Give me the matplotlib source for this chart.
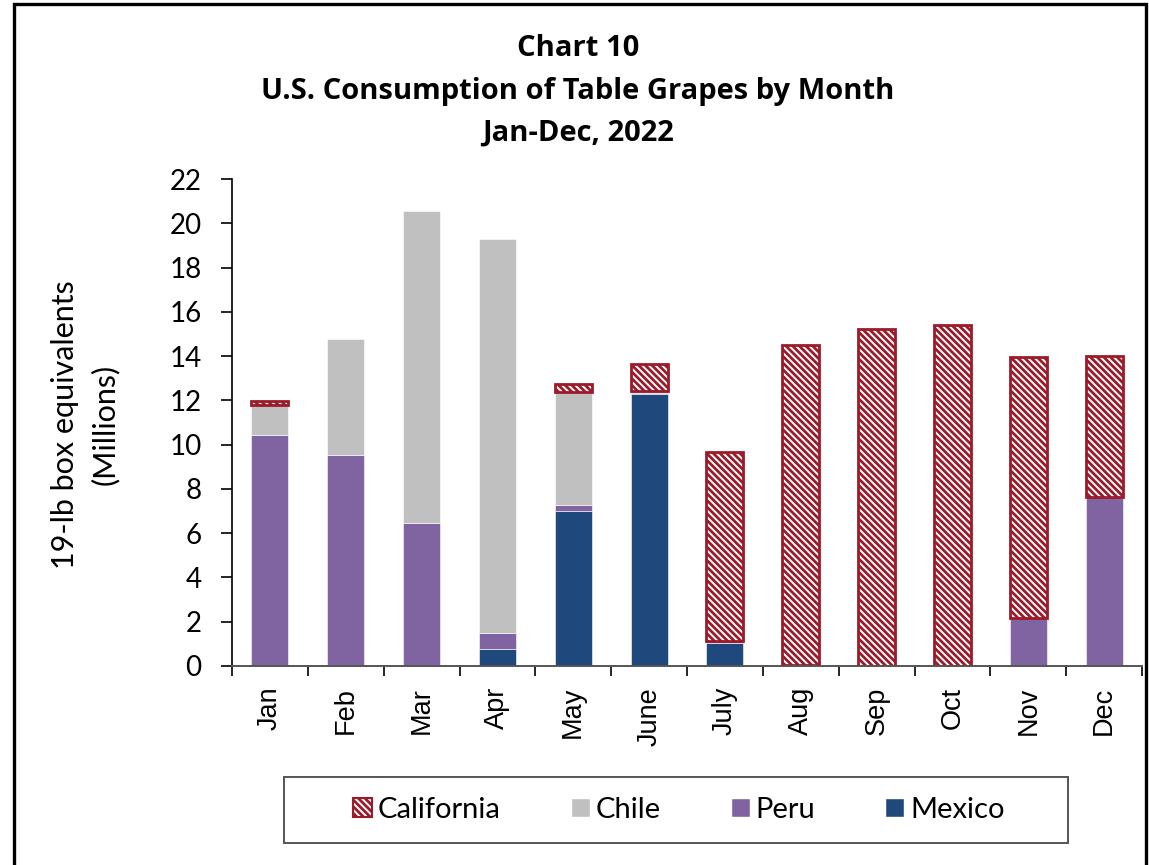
import matplotlib
matplotlib.use("Agg")
import matplotlib.pyplot as plt
from matplotlib.patches import Rectangle, Patch
import numpy as np

months = ["Jan", "Feb", "Mar", "Apr", "May", "June", "July", "Aug", "Sep", "Oct", "Nov", "Dec"]
mexico = [0.0, 0.0, 0.0, 0.75, 7.0, 12.3, 1.05, 0.0, 0.0, 0.0, 0.0, 0.0]
peru = [10.45, 9.53, 6.47, 0.74, 0.28, 0.02, 0.08, 0.05, 0.0, 0.0, 2.15, 7.65]
chile = [1.35, 5.25, 14.1, 17.8, 5.1, 0.1, 0.0, 0.0, 0.0, 0.0, 0.0, 0.0]
california = [0.17, 0.0, 0.0, 0.0, 0.36, 1.22, 8.55, 14.45, 15.22, 15.42, 11.82, 6.37]

series_names = ["California", "Chile", "Peru", "Mexico"]
yticks = list(range(0, 23, 2))

C_MEX = "#1F497D"
C_PERU = "#8064A2"
C_CHILE = "#C0C0C0"
C_CAL = "#9B1B2A"
HATCH = "\\\\\\\\\\"

plt.rcParams["hatch.linewidth"] = 2.0
W, H = 1149, 865
fig = plt.figure(figsize=(W / 100, H / 100), dpi=100)
ax = fig.add_axes([232 / W, 1 - 666 / H, (1142 - 232) / W, (666 - 179) / H])

x = np.arange(len(months))
bw = 0.49
mex = np.array(mexico)
pe = np.array(peru)
ch = np.array(chile)
ca = np.array(california)


def stack(vals, bottom, **kw):
    m = vals > 0
    ax.bar(x[m], vals[m], bw, bottom=bottom[m], **kw)


stack(mex, np.zeros_like(mex), color=C_MEX, edgecolor="white", linewidth=0.4)
stack(pe, mex, color=C_PERU, edgecolor="white", linewidth=0.4)
stack(ch, mex + pe, color=C_CHILE, edgecolor="white", linewidth=0.4)
stack(ca, mex + pe + ch, color="white", edgecolor=C_CAL, hatch=HATCH, linewidth=2.0)

ax.set_xlim(-0.5, len(months) - 0.5)
ax.set_ylim(0, 22)
ax.set_yticks(yticks)
ax.set_yticklabels([str(v) for v in yticks], family="Lato", fontsize=20)
ax.tick_params(axis="y", direction="out", length=8, width=1.2, color="black", pad=14)
ax.set_xticks(x)
ax.set_xticklabels(months, rotation=90, family="Liberation Sans", fontsize=19.5)
ax.tick_params(axis="x", which="major", length=0, pad=15)
ax.set_xticks(np.arange(-0.5, len(months), 1.0), minor=True)
ax.tick_params(axis="x", which="minor", direction="out", length=7.5, width=1.2, color="black")

for s in ["top", "right"]:
    ax.spines[s].set_visible(False)
ax.spines["left"].set_linewidth(1.2)
ax.spines["bottom"].set_linewidth(1.4)
ax.spines["bottom"].set_color("#555555")

fig.text(65 / W, 1 - 425 / H, "19-lb box equivalents", rotation=90, ha="center", va="center",
         family="Lato", fontsize=22)
fig.text(105 / W, 1 - 424 / H, "(Millions)", rotation=90, ha="center", va="center",
         family="Lato", fontsize=22)

title_lines = ["Chart 10", "U.S. Consumption of Table Grapes by Month", "Jan-Dec, 2022"]
for i, t in enumerate(title_lines):
    fig.text(578 / W, 1 - (49 + 42 * i) / H, t, ha="center", va="center",
             family="Open Sans", fontweight="bold", fontsize=21)

# chart frame
fig.patches.append(Rectangle((14 / W, -0.02), (1146 - 14) / W, 0.02 + 1 - 4 / H,
                             transform=fig.transFigure, fill=False, edgecolor="black",
                             linewidth=2.4, zorder=10))
# legend box
fig.patches.append(Rectangle((284 / W, 1 - 843 / H), (1068 - 284) / W, (843 - 777) / H,
                             transform=fig.transFigure, fill=False, edgecolor="#555555",
                             linewidth=1.4, zorder=10))

handles = [
    Patch(facecolor="white", edgecolor=C_CAL, hatch=HATCH, linewidth=1.5),
    Patch(facecolor=C_CHILE, edgecolor="white"),
    Patch(facecolor=C_PERU, edgecolor="white"),
    Patch(facecolor=C_MEX, edgecolor="white"),
]
fig.legend(handles, series_names, loc="center", bbox_to_anchor=(679 / W, 1 - 810 / H),
           ncol=4, frameon=False, prop={"family": "Lato", "size": 21},
           handlelength=0.65, handleheight=0.65, handletextpad=0.2, columnspacing=2.4)

fig.savefig("out.png", dpi=100)
